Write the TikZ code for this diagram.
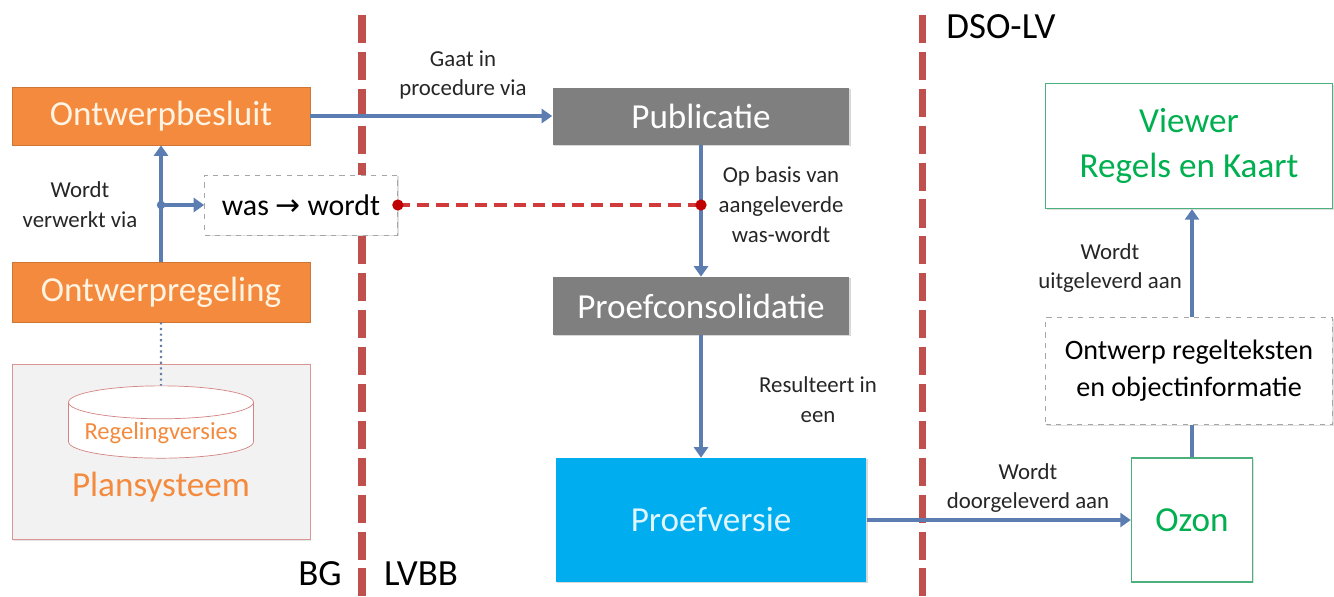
\documentclass[tikz,border=0pt]{standalone}
\usepackage{fontspec}
\setmainfont{Carlito}
\newfontfamily\arrowfont{DejaVu Sans}
\usepackage{xcolor}
\usetikzlibrary{arrows.meta,shapes.geometric,shadows}
\definecolor{boxorange}{HTML}{F48A3E}
\definecolor{boxgray}{HTML}{7F7F7F}
\definecolor{boxblue}{HTML}{00AEEF}
\definecolor{linkblue}{HTML}{5B7DB1}
\definecolor{borderred}{HTML}{C0504D}
\definecolor{dotred}{HTML}{C00000}
\definecolor{dashred}{HTML}{D03A3A}
\definecolor{ozongreen}{HTML}{00B050}
\definecolor{framegreen}{HTML}{4BAF7E}
\definecolor{lightcream}{HTML}{FFF3E2}
\definecolor{planfill}{HTML}{F2F2F2}

\tikzset{
  procbox/.style={rectangle, minimum width=5.96cm, minimum height=1.16cm,
    font=\fontsize{20}{24}\selectfont,
    drop shadow={opacity=0.3, shadow xshift=0.8pt, shadow yshift=-0.8pt}},
  orangebox/.style={procbox, fill=boxorange, draw=boxorange!85!black, text=lightcream},
  graybox/.style={procbox, fill=boxgray, text=white, minimum width=5.94cm},
  greenbox/.style={rectangle, draw=framegreen, line width=0.8pt, fill=white,
    text=ozongreen, align=center, font=\fontsize{20}{26}\selectfont,
    drop shadow={opacity=0.25, shadow xshift=0.8pt, shadow yshift=-0.8pt}},
  dashbox/.style={rectangle, draw=gray!70, dashed, fill=white, align=center,
    drop shadow={opacity=0.25, shadow xshift=0.8pt, shadow yshift=-0.8pt}},
  flow/.style={draw=linkblue, line width=1.8pt, -{Triangle[length=6pt,width=8pt]}},
  stroke/.style={draw=linkblue, line width=1.8pt},
  lbl/.style={align=center, font=\fontsize{13}{17}\selectfont, text=black!85, inner sep=0pt},
  zone/.style={font=\fontsize{21}{25}\selectfont, inner sep=0pt},
  border/.style={draw=borderred, line width=4pt, dash pattern=on 16pt off 5pt},
}

\begin{document}
\begin{tikzpicture}[x=0.02cm, y=-0.02cm]
  \useasboundingbox (0,0) rectangle (1334,596);

  % zone borders
  \draw[border] (362,15) -- (362,596);
  \draw[border] (922,15) -- (922,596);
  \node[zone] (bg) at (320,574) {BG};
  \node[zone] (lvbb) at (421,574) {LVBB};
  \node[zone] (dsolv) at (1001,27) {DSO-LV};

  % BG
  \node[orangebox] (besluit) at (161,116) {Ontwerpbesluit};
  \node[orangebox, minimum height=1.2cm] (regeling) at (161,292) {Ontwerpregeling};
  \node[rectangle, draw=borderred!60, fill=planfill, minimum width=5.96cm, minimum height=3.5cm,
    drop shadow={opacity=0.2, shadow xshift=0.8pt, shadow yshift=-0.8pt}] (plansys) at (161,452) {};
  \node[text=boxorange, font=\fontsize{20}{24}\selectfont] (planlbl) at (161,487) {Plansysteem};
  \node[cylinder, shape border rotate=90, aspect=0.2, draw=borderred!70, fill=white,
    minimum width=3.7cm, inner ysep=2pt, text=boxorange, anchor=shape center,
    font=\fontsize{14}{17}\selectfont] (versies) at (161,422) {Regelingversies};
  \node[dashbox, minimum width=3.86cm, minimum height=1.2cm,
    font=\fontsize{17}{20}\selectfont] (waswordt) at (301,205) {was {\arrowfont →} wordt};
  \coordinate (split) at (161,205);
  \node[lbl] (verwerkt) at (80,205) {Wordt\\verwerkt via};

  \draw[flow] (regeling) -- (besluit);
  \fill[linkblue] (split) circle (2.4pt);
  \draw[flow] (split) -- (waswordt);
  \draw[linkblue!70!gray, line width=1.2pt, dotted] (regeling) -- (versies.north);

  % LVBB
  \node[graybox, minimum height=1.14cm] (publicatie) at (701,116) {Publicatie};
  \node[graybox] (consolidatie) at (701,306) {Proefconsolidatie};
  \node[rectangle, fill=boxblue, text=white!88!cyan, minimum width=6.22cm, minimum height=2.48cm,
    font=\fontsize{20}{24}\selectfont,
    drop shadow={opacity=0.3, shadow xshift=0.8pt, shadow yshift=-0.8pt}] (proefversie) at (711,520) {Proefversie};
  \coordinate (tap) at (701,205);
  \node[lbl] (procedure) at (463,75) {Gaat in\\procedure via};
  \node[lbl] (basis) at (781,205) {Op basis van\\aangeleverde\\was-wordt};
  \node[lbl] (resulteert) at (818,400) {Resulteert in\\een};

  \draw[flow] (besluit) -- (publicatie);
  \draw[flow] (publicatie) -- (consolidatie);
  \draw[flow] (consolidatie.south) -- (consolidatie.south |- proefversie.north);
  \draw[dashred, line width=1.8pt, dash pattern=on 7pt off 4pt] (waswordt.east) -- (tap);
  \fill[dotred] (waswordt.east) circle (3.2pt);
  \fill[dotred] (tap) circle (3.2pt);

  % DSO-LV
  \node[greenbox, minimum width=2.42cm, minimum height=2.48cm] (ozon) at (1192,520) {Ozon};
  \node[dashbox, minimum width=5.74cm, minimum height=2.14cm,
    font=\fontsize{16}{21}\selectfont] (ontwerp) at (1189,371) {Ontwerp regelteksten\\en objectinformatie};
  \node[greenbox, minimum width=5.74cm, minimum height=2.5cm] (viewer) at (1189,146) {Viewer\\Regels en Kaart};
  \node[lbl] (doorgeleverd) at (1028,488) {Wordt\\doorgeleverd aan};
  \node[lbl] (uitgeleverd) at (1110,268) {Wordt\\uitgeleverd aan};

  \draw[flow] (proefversie) -- (ozon);
  \draw[stroke] (ozon) -- (ozon |- ontwerp.south);
  \draw[flow] (ozon |- ontwerp.north) -- (ozon |- viewer.south);
\end{tikzpicture}
\end{document}
